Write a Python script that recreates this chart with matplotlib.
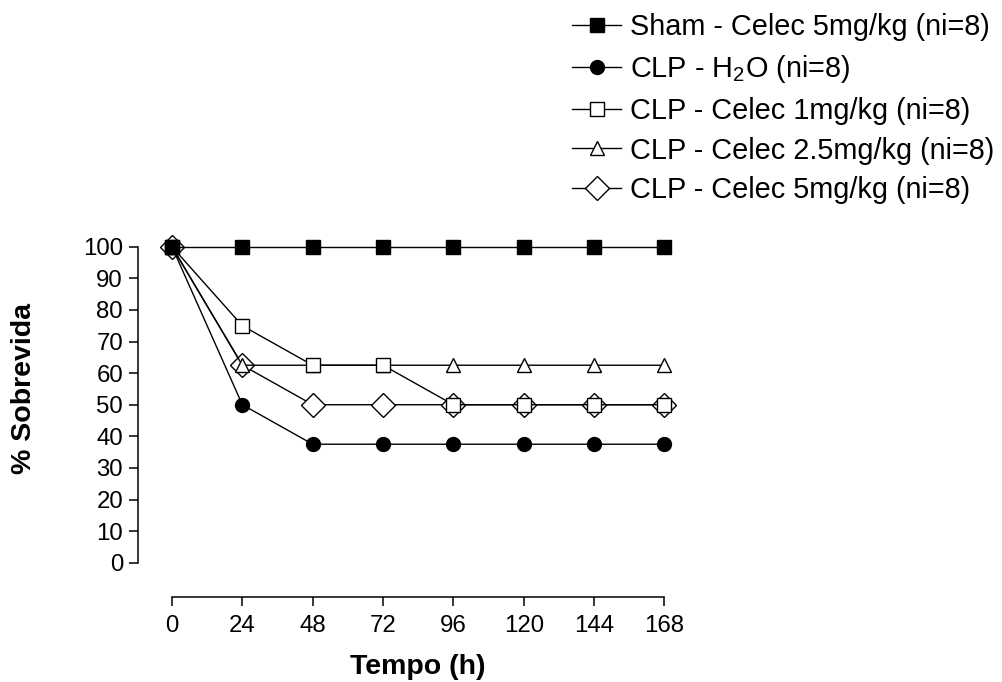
import matplotlib
matplotlib.use('Agg')
import matplotlib.pyplot as plt

plt.rcParams['font.family'] = ['Liberation Sans', 'DejaVu Sans']
plt.rcParams['mathtext.fontset'] = 'custom'
plt.rcParams['mathtext.rm'] = 'Liberation Sans'
plt.rcParams['mathtext.it'] = 'Liberation Sans:italic'
plt.rcParams['mathtext.bf'] = 'Liberation Sans:bold'

# Survival (%) over time for each group
tempo = [0, 24, 48, 72, 96, 120, 144, 168]
sham_celec5 = [100, 100, 100, 100, 100, 100, 100, 100]
clp_h2o = [100, 50, 37.5, 37.5, 37.5, 37.5, 37.5, 37.5]
clp_celec1 = [100, 75, 62.5, 62.5, 50, 50, 50, 50]
clp_celec25 = [100, 62.5, 62.5, 62.5, 62.5, 62.5, 62.5, 62.5]
clp_celec5 = [100, 62.5, 50, 50, 50, 50, 50, 50]

labels = [
    'Sham - Celec 5mg/kg (ni=8)',
    'CLP - H$_2$O (ni=8)',
    'CLP - Celec 1mg/kg (ni=8)',
    'CLP - Celec 2.5mg/kg (ni=8)',
    'CLP - Celec 5mg/kg (ni=8)',
]
xticks = [0, 24, 48, 72, 96, 120, 144, 168]
yticks = [0, 10, 20, 30, 40, 50, 60, 70, 80, 90, 100]

fig = plt.figure(figsize=(10.03, 6.82), dpi=100)
ax = fig.add_axes([0.13729, 0.12507, 0.54855, 0.53167])

lw = 1.0
common = dict(color='black', linewidth=lw, markeredgecolor='black',
              markeredgewidth=1.0, clip_on=False)

# drawing order: diamonds at the back, filled squares on top
l5, = ax.plot(tempo, clp_celec5, marker='D', markersize=12.5,
              markerfacecolor='white', label=labels[4], zorder=3, **common)
l25, = ax.plot(tempo, clp_celec25, marker='^', markersize=10.5,
               markerfacecolor='white', label=labels[3], zorder=4, **common)
l1, = ax.plot(tempo, clp_celec1, marker='s', markersize=9.5,
              markerfacecolor='white', label=labels[2], zorder=5, **common)
lh, = ax.plot(tempo, clp_h2o, marker='o', markersize=10,
              markerfacecolor='black', label=labels[1], zorder=6, **common)
ls, = ax.plot(tempo, sham_celec5, marker='s', markersize=9.5,
              markerfacecolor='black', label=labels[0], zorder=7, **common)

ax.set_xlim(-11.7, 176)
ax.set_ylim(-10.76, 104)
ax.set_xticks(xticks)
ax.set_yticks(yticks)

for side in ['top', 'right']:
    ax.spines[side].set_visible(False)
ax.spines['left'].set_bounds(0, 100)
ax.spines['bottom'].set_bounds(0, 168)
ax.spines['left'].set_linewidth(1.1)
ax.spines['bottom'].set_linewidth(1.1)
ax.tick_params(axis='both', direction='out', length=6.5, width=1.1,
               labelsize=17.3, colors='black')
ax.tick_params(axis='y', pad=4)
ax.tick_params(axis='x', pad=7)

fig.text(418 / 1003, 1 - 667 / 682, 'Tempo (h)', fontsize=20.5,
         fontweight='bold', ha='center', va='center')
fig.text(24 / 1003, 1 - 388 / 682, '% Sobrevida', fontsize=20.5,
         fontweight='bold', ha='center', va='center', rotation=90)

leg = ax.legend(handles=[ls, lh, l1, l25, l5], loc='upper left',
                bbox_to_anchor=(572 / 1003, 1 - 13 / 682),
                bbox_transform=fig.transFigure, frameon=False,
                fontsize=20.8, handlelength=1.71, handletextpad=0.31,
                labelspacing=0.41, borderpad=0, borderaxespad=0)

fig.savefig('out.png', dpi=100)
